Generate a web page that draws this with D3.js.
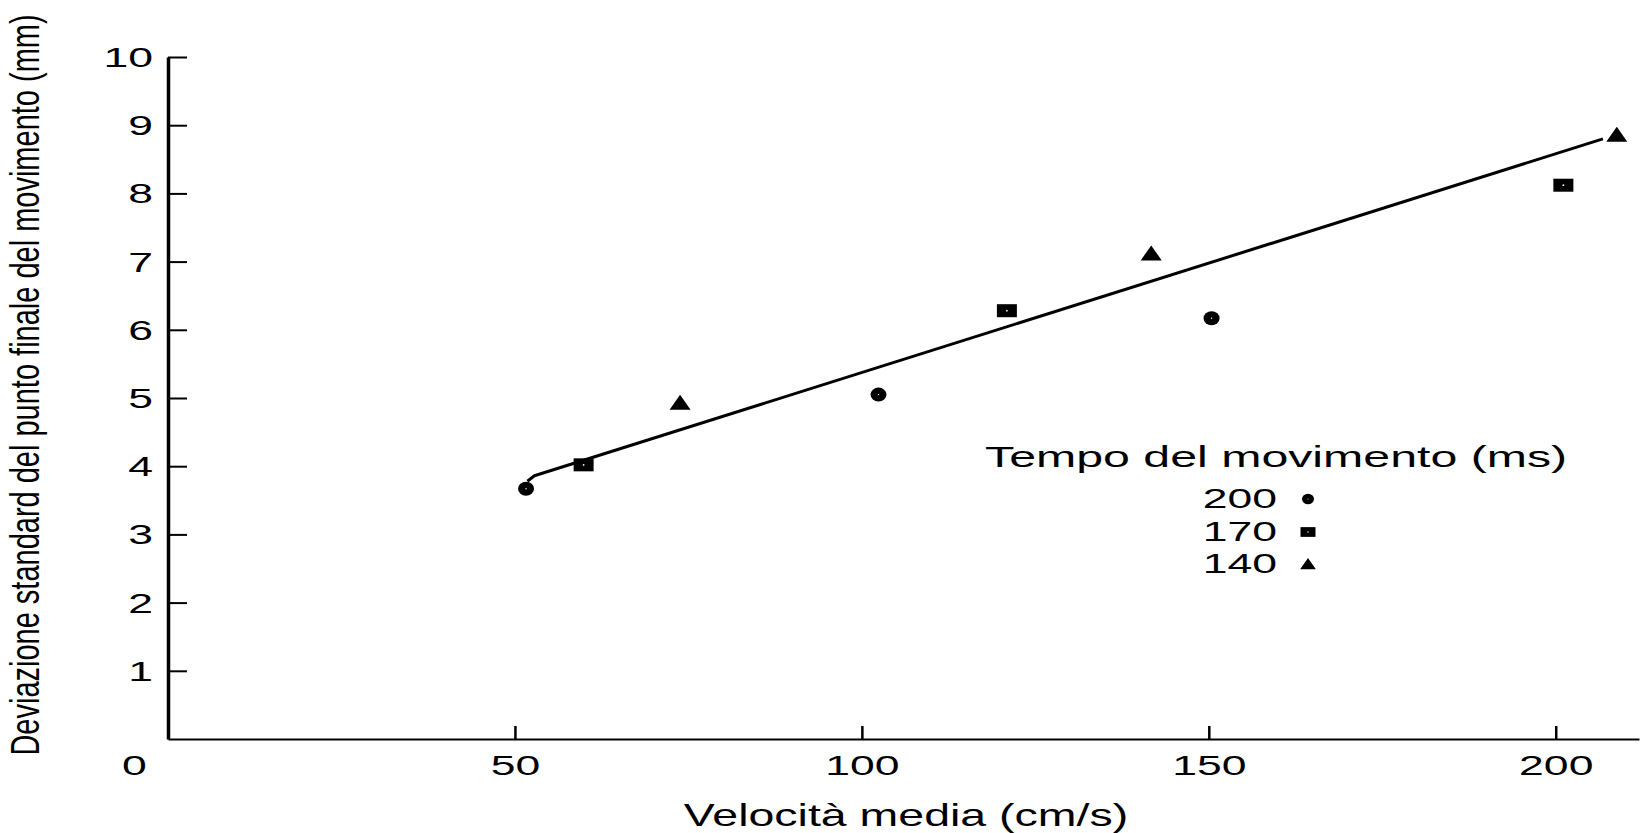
<!DOCTYPE html>
<html>
<head>
<meta charset="utf-8">
<script src="https://cdn.jsdelivr.net/npm/d3@7"></script>
<style>
  html, body { margin: 0; padding: 0; background: #fff; }
  svg { display: block; }
  text { font-family: "Liberation Sans", Arial, sans-serif; fill: #000; }
</style>
</head>
<body>
<svg id="chart" width="1641" height="833"></svg>
<script>
// ---- data ----
const xTicks = [0, 50, 100, 150, 200];
const yTicks = [1, 2, 3, 4, 5, 6, 7, 8, 9, 10];
const xTitle = "Velocità media (cm/s)";
const yTitle = "Deviazione standard del punto finale del movimento (mm)";
const legendTitle = "Tempo del movimento (ms)";
const seriesNames = ["200", "170", "140"];
const seriesShapes = ["circle", "square", "triangle"];
const x200 = [51.6, 102.4, 150.4];
const y200 = [3.67, 5.05, 6.17];
const x170 = [59.9, 120.9, 201.1];
const y170 = [4.02, 6.28, 8.12];
const x140 = [73.8, 141.7, 208.8];
const y140 = [4.93, 7.12, 8.86];
const lineX = [51.8, 52.8, 206.8];
const lineY = [3.78, 3.86, 8.80];

// ---- layout ----
const svg = d3.select("#chart");
const x = d3.scaleLinear().domain([0, 212]).range([168, 1639]);
const y = d3.scaleLinear().domain([0, 10]).range([739, 57]);
const SX = 1.65; // horizontal stretch of glyphs in the scan

// y axis
const gy = svg.append("g").attr("transform", `translate(${x(0)},0)`)
  .call(d3.axisLeft(y).tickValues(yTicks).tickSize(-19).tickSizeOuter(0));
gy.select(".domain").attr("stroke", "#000").attr("stroke-width", 3.5);
gy.selectAll(".tick line").attr("stroke", "#000").attr("stroke-width", 2);
gy.selectAll(".tick text")
  .attr("x", 0).attr("dy", "0.35em")
  .attr("transform", `translate(-15,0) scale(${SX},1)`)
  .attr("text-anchor", "end")
  .style("font-size", "27px");

// x axis
const gx = svg.append("g").attr("transform", `translate(0,${y(0)})`)
  .call(d3.axisBottom(x).tickValues(xTicks).tickSize(-13).tickSizeOuter(0));
gx.select(".domain").attr("stroke", "#000").attr("stroke-width", 2.2);
gx.selectAll(".tick line").attr("stroke", "#000").attr("stroke-width", 2.5)
  .attr("display", d => d === 0 ? "none" : null);
gx.selectAll(".tick text")
  .attr("y", 0).attr("dy", "0.35em")
  .attr("transform", d => `translate(${d === 0 ? -34 : 0},27) scale(${SX},1)`)
  .attr("text-anchor", "middle")
  .style("font-size", "27px");
svg.selectAll(".tick text").attr("fill", "#000");

// axis titles
svg.append("g").attr("transform", "translate(906,826) scale(1.5,1)")
  .append("text").attr("text-anchor", "middle").style("font-size", "31px").text(xTitle);
svg.append("g").attr("transform", "translate(39,385) rotate(-90) scale(1,1.4)")
  .append("text").attr("text-anchor", "middle").style("font-size", "29px").text(yTitle);

// regression line
const lineData = lineX.map((v, i) => [v, lineY[i]]);
svg.append("path").datum(lineData)
  .attr("fill", "none").attr("stroke", "#000").attr("stroke-width", 3)
  .attr("stroke-linejoin", "round")
  .attr("d", d3.line().x(d => x(d[0])).y(d => y(d[1])));

// markers
function drawMarker(g, shape, cx, cy, s) {
  if (shape === "circle") {
    g.append("ellipse").attr("cx", cx).attr("cy", cy).attr("rx", 8 * s).attr("ry", 7 * s).attr("fill", "#000");
    g.append("circle").attr("cx", cx).attr("cy", cy).attr("r", 0.7 * s).attr("fill", "#fff");
  } else if (shape === "square") {
    g.append("rect").attr("x", cx - 10 * s).attr("y", cy - 6.5 * s).attr("width", 20 * s).attr("height", 13 * s).attr("fill", "#000");
    g.append("circle").attr("cx", cx).attr("cy", cy).attr("r", 0.9 * s).attr("fill", "#fff");
  } else {
    g.append("path")
      .attr("d", `M${cx},${cy - 8 * s}L${cx + 10.5 * s},${cy + 7 * s}L${cx - 10.5 * s},${cy + 7 * s}Z`)
      .attr("fill", "#000");
  }
}
const seriesX = [x200, x170, x140];
const seriesY = [y200, y170, y140];
const gm = svg.append("g");
seriesX.forEach((xs, si) => {
  xs.forEach((v, i) => drawMarker(gm, seriesShapes[si], x(v), y(seriesY[si][i]), 1));
});

// legend
svg.append("g").attr("transform", "translate(985,467) scale(1.61,1)")
  .append("text").attr("text-anchor", "start").style("font-size", "30px").text(legendTitle);
const legY = [499, 532, 564];
seriesNames.forEach((name, i) => {
  svg.append("g").attr("transform", `translate(1277,${legY[i]}) scale(${SX},1)`)
    .append("text").attr("text-anchor", "end").attr("dy", "0.35em").style("font-size", "27px").text(name);
  drawMarker(svg.append("g"), seriesShapes[i], 1308, legY[i], 0.75);
});
</script>
</body>
</html>
